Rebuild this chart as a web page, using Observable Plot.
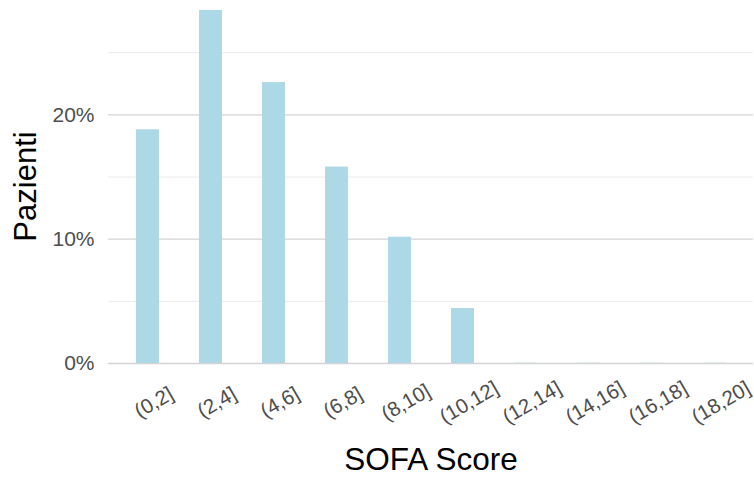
<!DOCTYPE html>
<html>
<head>
<meta charset="utf-8">
<script src="https://cdn.jsdelivr.net/npm/d3@7"></script>
<script src="https://cdn.jsdelivr.net/npm/@observablehq/plot@0.6"></script>
<style>
  html, body { margin: 0; padding: 0; background: #fff; }
  #chart svg { font-family: "Liberation Sans", Arial, sans-serif; }
</style>
</head>
<body>
<div id="chart"></div>
<script>
const categories = ["(0,2]", "(2,4]", "(4,6]", "(6,8]", "(8,10]", "(10,12]", "(12,14]", "(14,16]", "(16,18]", "(18,20]"];
const shares = [0.188, 0.284, 0.226, 0.158, 0.1016, 0.0442, 0.0002, 0.0002, 0.0002, 0.0002];
const majorTicks = [0, 0.1, 0.2];
const minorTicks = [0.05, 0.15, 0.25];
const xTitle = "SOFA Score";
const yTitle = "Pazienti";

const data = categories.map((c, i) => ({cat: c, value: shares[i]}));

const chart = Plot.plot({
  width: 754,
  height: 482,
  marginLeft: 108,
  marginRight: 1,
  marginTop: 3,
  marginBottom: 119,
  style: {fontFamily: "'Liberation Sans', Arial, sans-serif", background: "#fff"},
  x: {domain: categories, paddingInner: 0.637, paddingOuter: 0.415, axis: null},
  y: {domain: [0, 0.2896], axis: null},
  marks: [
    Plot.ruleY(minorTicks, {stroke: "#ebebeb", strokeWidth: 1}),
    Plot.ruleY(majorTicks, {stroke: "#d4d4d4", strokeWidth: 1.3}),
    Plot.barY(data, {x: "cat", y: "value", fill: "#ADD8E6"}),
    Plot.axisY(majorTicks, {
      tickSize: 0, tickPadding: 14, fontSize: 21, fill: "#4d4d4d",
      tickFormat: d => Math.round(d * 100) + "%", label: null
    }),
    Plot.text(categories, {
      x: d => d, y: () => 0, rotate: -30, textAnchor: "middle", lineAnchor: "middle",
      dx: 6, dy: 39, fontSize: 20.5, fill: "#4d4d4d"
    }),
    Plot.text([yTitle], {
      frameAnchor: "left", rotate: -90, textAnchor: "middle", lineAnchor: "middle",
      dx: -82, dy: 3, fontSize: 31, fill: "#000"
    }),
    Plot.text([xTitle], {
      frameAnchor: "bottom", textAnchor: "middle", lineAnchor: "middle",
      dy: 96, fontSize: 31.5, fill: "#000"
    })
  ]
});
document.getElementById("chart").appendChild(chart);
</script>
</body>
</html>
